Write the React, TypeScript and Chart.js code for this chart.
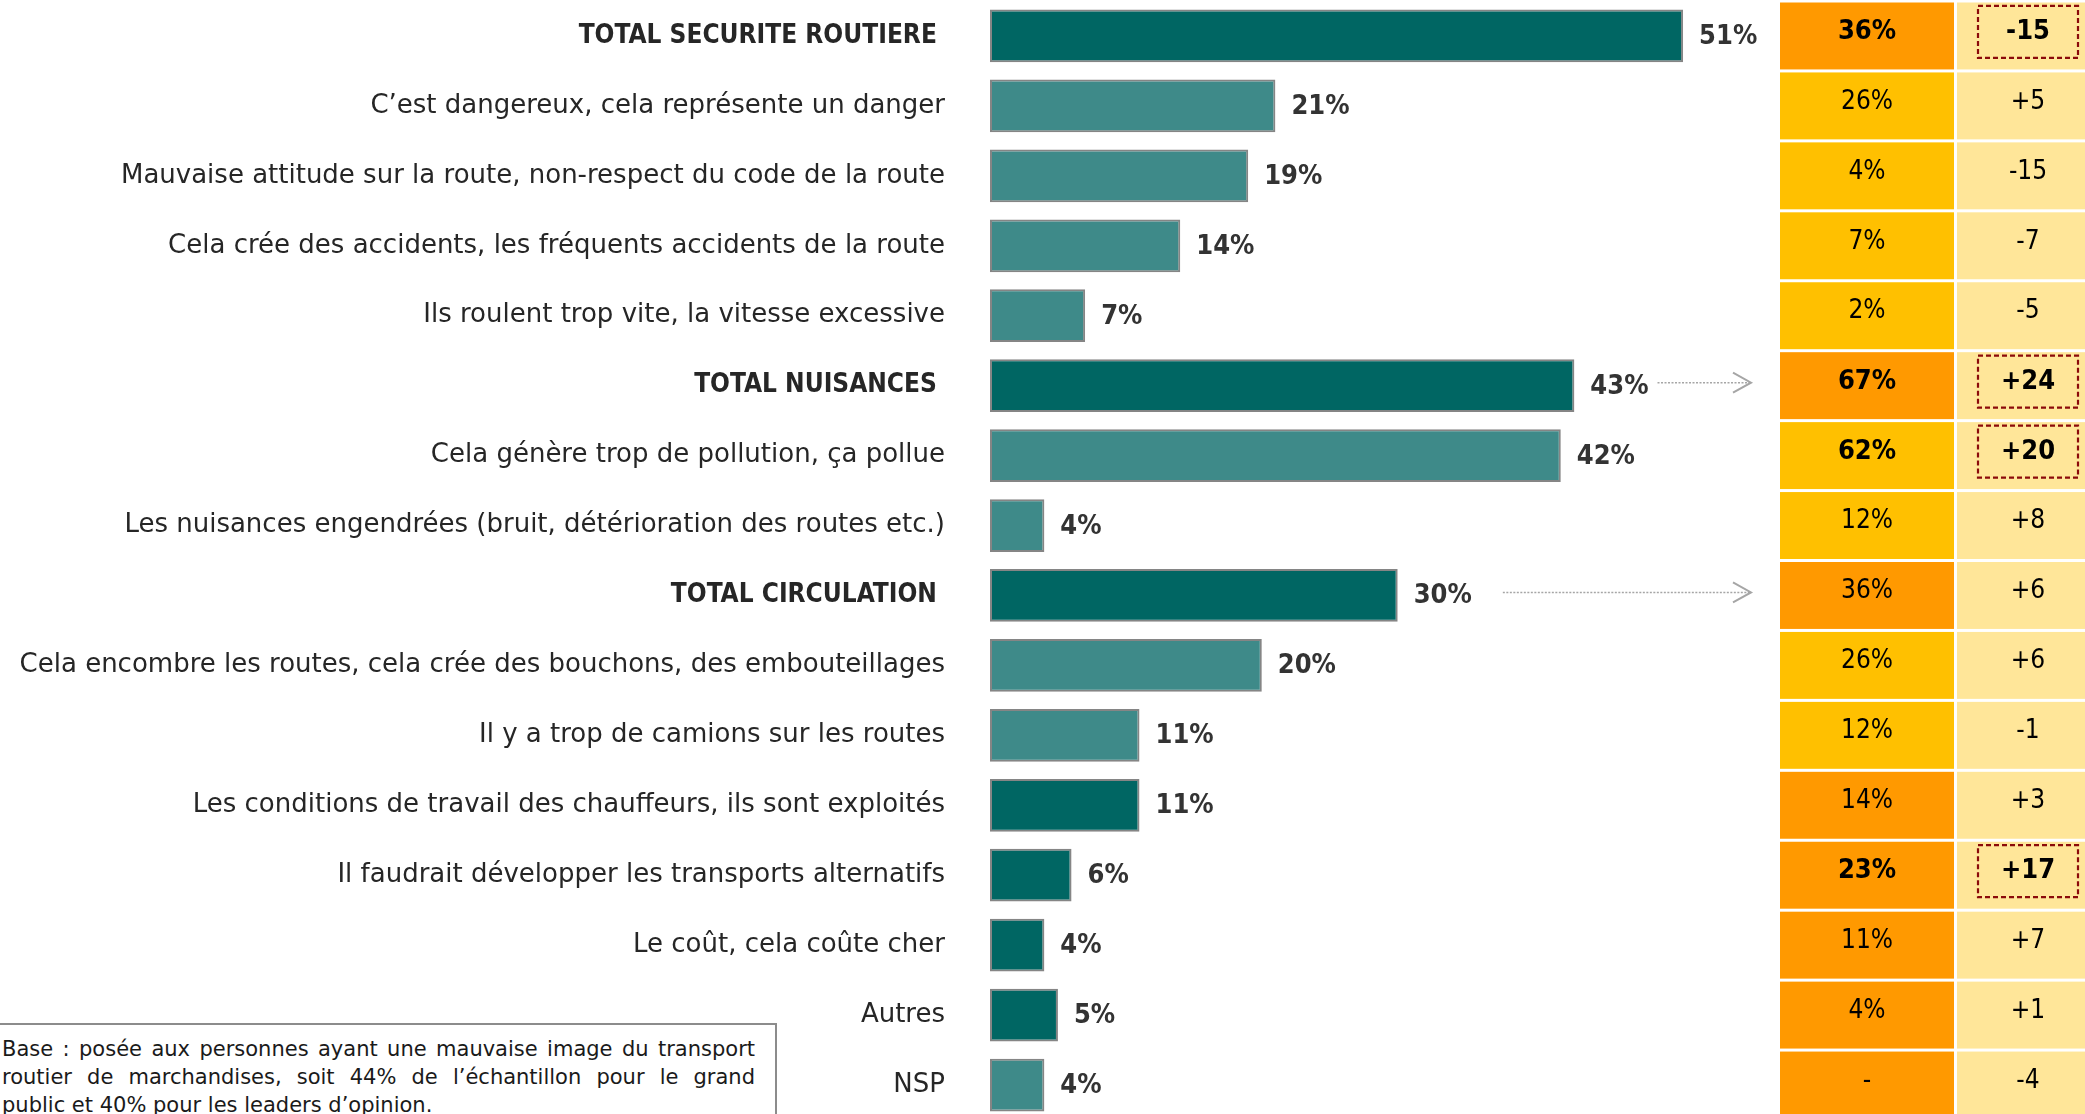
import React, { useEffect, useRef } from "react";
import { Chart, registerables } from "chart.js";

Chart.register(...registerables);

// ---------- DATA ----------
const categories = [
  "TOTAL SECURITE ROUTIERE ",
  "C’est dangereux, cela représente un danger",
  "Mauvaise attitude sur la route, non-respect du code de la route",
  "Cela crée des accidents, les fréquents accidents de la route",
  "Ils roulent trop vite, la vitesse excessive",
  "TOTAL NUISANCES ",
  "Cela génère trop de pollution, ça pollue",
  "Les nuisances engendrées (bruit, détérioration des routes etc.)",
  "TOTAL CIRCULATION ",
  "Cela encombre les routes, cela crée des bouchons, des embouteillages",
  "Il y a trop de camions sur les routes",
  "Les conditions de travail des chauffeurs, ils sont exploités",
  "Il faudrait développer les transports alternatifs",
  "Le coût, cela coûte cher",
  "Autres",
  "NSP",
];
const values = [51, 21, 19, 14, 7, 43, 42, 4, 30, 20, 11, 11, 6, 4, 5, 4];
const isTotal = [true, false, false, false, false, true, false, false, true, false, false, false, false, false, false, false];
const darkBar = [true, false, false, false, false, true, false, false, true, false, false, true, true, true, true, false];
const leadersValues = ["36%", "26%", "4%", "7%", "2%", "67%", "62%", "12%", "36%", "26%", "12%", "14%", "23%", "11%", "4%", "-"];
const leadersDark = [true, false, false, false, false, true, false, false, true, false, false, true, true, true, true, true];
const gaps = ["-15", "+5", "-15", "-7", "-5", "+24", "+20", "+8", "+6", "+6", "-1", "+3", "+17", "+7", "+1", "-4"];
const highlighted = [true, false, false, false, false, true, true, false, false, false, false, false, true, false, false, false];
const arrowRows = [5, 8];
const footnoteLines = [
  "Base : posée aux personnes ayant une mauvaise image du transport",
  "routier de marchandises, soit 44% de l’échantillon pour le grand",
  "public et 40% pour les leaders d’opinion.",
];

// ---------- STYLE / LAYOUT ----------
const DARK_TEAL = "#006663";
const LIGHT_TEAL = "#3E8A89";
const ORANGE = "#FF9900";
const YELLOW = "#FFC000";
const PALE = "#FFE699";
const COL1_LEFT = 1780;
const COL1_RIGHT = 1954;
const COL2_LEFT = 1957;
const COL2_RIGHT = 2100;
const ARROW_END = 1751;

const sidePlugin = {
  id: "sidePanel",
  afterDatasetsDraw(chart: any) {
    const ctx = chart.ctx as CanvasRenderingContext2D;
    const yScale = chart.scales.y;
    const meta = chart.getDatasetMeta(0);
    const band = yScale.getPixelForValue(1) - yScale.getPixelForValue(0);
    ctx.save();

    // value labels + arrows
    meta.data.forEach((bar: any, i: number) => {
      const p = bar.getProps(["x", "y"], true);
      ctx.font = 'bold 27px "DejaVu Sans Condensed", "DejaVu Sans", sans-serif';
      ctx.fillStyle = "#333333";
      ctx.textAlign = "left";
      ctx.textBaseline = "middle";
      const label = values[i] + "%";
      const lx = p.x + 16;
      ctx.fillText(label, lx, p.y + 1);
      if (arrowRows.includes(i)) {
        const w = ctx.measureText(label).width;
        const sx = lx + w + (i === 8 ? 31 : 9);
        const ay = p.y - 3;
        ctx.strokeStyle = "#A6A6A6";
        ctx.lineWidth = 1.5;
        ctx.setLineDash([2, 1.5]);
        ctx.beginPath();
        ctx.moveTo(sx, ay);
        ctx.lineTo(ARROW_END, ay);
        ctx.stroke();
        ctx.setLineDash([]);
        ctx.lineWidth = 2;
        ctx.beginPath();
        ctx.moveTo(ARROW_END - 18, ay - 10);
        ctx.lineTo(ARROW_END, ay);
        ctx.lineTo(ARROW_END - 18, ay + 10);
        ctx.stroke();
      }
    });

    // side table
    categories.forEach((_, i) => {
      const cy = yScale.getPixelForValue(i);
      const top = cy - band / 2 + 1.5;
      const h = band - 3;
      ctx.fillStyle = leadersDark[i] ? ORANGE : YELLOW;
      ctx.fillRect(COL1_LEFT, top, COL1_RIGHT - COL1_LEFT, h);
      ctx.fillStyle = PALE;
      ctx.fillRect(COL2_LEFT, top, COL2_RIGHT - COL2_LEFT, h);

      const ty = cy - 4;
      ctx.fillStyle = "#000000";
      ctx.textAlign = "center";
      ctx.textBaseline = "middle";
      ctx.font = highlighted[i]
        ? 'bold 27px "DejaVu Sans Condensed", "DejaVu Sans", sans-serif'
        : '26px "DejaVu Sans Condensed", "DejaVu Sans", sans-serif';
      ctx.fillText(leadersValues[i], (COL1_LEFT + COL1_RIGHT) / 2, ty);
      const c2 = 2028;
      ctx.fillText(gaps[i], c2, ty);
      if (highlighted[i]) {
        ctx.strokeStyle = "#8B0A0A";
        ctx.lineWidth = 2.2;
        ctx.setLineDash([5, 3]);
        ctx.strokeRect(c2 - 50, ty - 26, 100, 52);
        ctx.setLineDash([]);
      }
    });
    ctx.restore();
  },
};

export default function App() {
  const canvasRef = useRef<HTMLCanvasElement | null>(null);

  useEffect(() => {
    const canvas = canvasRef.current;
    if (!canvas) return;
    const chart = new Chart(canvas, {
      type: "bar",
      data: {
        labels: categories,
        datasets: [
          {
            data: values,
            backgroundColor: darkBar.map((d) => (d ? DARK_TEAL : LIGHT_TEAL)),
            borderColor: "#858585",
            borderWidth: 2,
            borderSkipped: false,
            barPercentage: 0.755,
            categoryPercentage: 1,
          },
        ],
      },
      options: {
        indexAxis: "y",
        responsive: false,
        animation: false,
        devicePixelRatio: 1,
        layout: { padding: { left: 0, right: 279.6, top: 1, bottom: 0 } },
        plugins: { legend: { display: false }, tooltip: { enabled: false } },
        scales: {
          x: {
            display: false,
            min: 0,
            max: 60,
          },
          y: {
            type: "category",
            offset: true,
            grid: { display: false, drawTicks: false },
            border: { display: false },
            afterFit: (scale: any) => {
              scale.width = 990;
              scale.paddingTop = 0;
              scale.paddingBottom = 0;
            },
            ticks: {
              padding: 45,
              color: "#262626",
              autoSkip: false,
              font: (c: any) =>
                isTotal[c.index]
                  ? { family: '"DejaVu Sans Condensed", "DejaVu Sans", sans-serif', size: 26, weight: "bold" }
                  : { family: '"DejaVu Sans", sans-serif', size: 26, weight: "normal" },
            },
          },
        },
      },
      plugins: [sidePlugin],
    });
    return () => chart.destroy();
  }, []);

  return (
    <div
      style={{
        position: "fixed",
        left: 0,
        top: 0,
        width: 2085,
        height: 1114,
        overflow: "hidden",
        background: "#ffffff",
      }}
    >
      <canvas ref={canvasRef} width={2085} height={1120} style={{ display: "block", position: "absolute", left: 0, top: 0 }} />
      <div
        style={{
          position: "absolute",
          left: -12,
          top: 1023,
          width: 789,
          boxSizing: "border-box",
          border: "2px solid #8C8C8C",
          background: "#ffffff",
          padding: "10px 20px 12px 12px",
          fontFamily: '"DejaVu Sans", sans-serif',
          fontSize: 21,
          lineHeight: "28px",
          color: "#1a1a1a",
        }}
      >
        {footnoteLines.map((line, i) => (
          <div
            key={i}
            style={{
              whiteSpace: "nowrap",
              textAlign: i < footnoteLines.length - 1 ? "justify" : "left",
              textAlignLast: i < footnoteLines.length - 1 ? "justify" : "left",
            }}
          >
            {line}
          </div>
        ))}
      </div>
    </div>
  );
}
